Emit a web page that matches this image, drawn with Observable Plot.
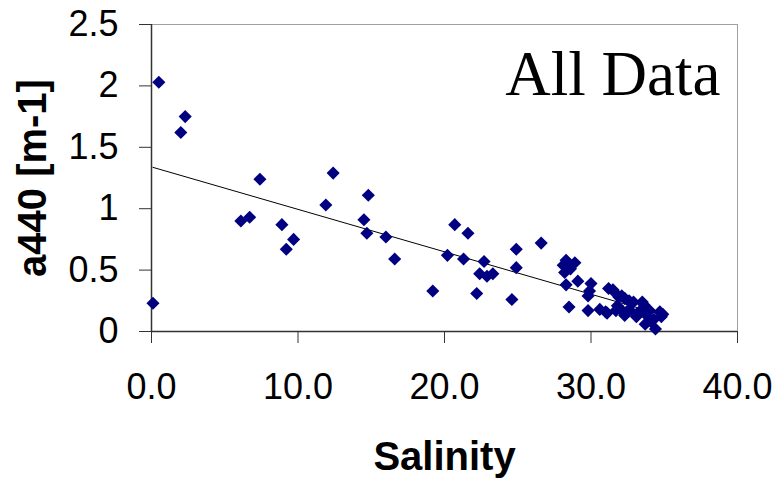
<!DOCTYPE html>
<html>
<head>
<meta charset="utf-8">
<script src="https://cdn.jsdelivr.net/npm/d3@7"></script>
<script src="https://cdn.jsdelivr.net/npm/@observablehq/plot@0.6"></script>
<style>
  html, body { margin: 0; padding: 0; background: #fff; }
</style>
</head>
<body>
<div id="chart"></div>
<script>
const salinity = [
  0.1, 0.5, 2.0, 2.3, 6.1, 6.7, 7.4, 8.9, 9.2, 9.7,
  11.9, 12.4, 14.5, 14.7, 14.8, 16.0, 16.6, 19.2, 20.2, 20.7,
  21.3, 21.6, 22.2, 22.4, 22.7, 22.9, 23.3, 24.6, 24.9, 24.9,
  26.6, 28.1, 28.3, 28.6, 28.9, 28.2, 28.3, 29.1, 28.5, 30.0,
  29.9, 29.8, 29.8, 30.6, 31.1, 31.2, 31.5, 31.7, 31.9, 32.1,
  32.3, 32.6, 32.9, 33.5, 33.6, 31.8, 31.0, 31.7, 32.2, 32.3,
  32.6, 33.1, 33.3, 33.1, 33.8, 34.0, 34.3, 34.7, 34.8, 34.9,
  33.7, 34.1, 34.4
];
const a440 = [
  0.23, 2.03, 1.62, 1.75, 0.90, 0.93, 1.24, 0.87, 0.67, 0.75,
  1.03, 1.29, 0.91, 0.80, 1.11, 0.77, 0.59, 0.33, 0.62, 0.87,
  0.59, 0.80, 0.31, 0.47, 0.57, 0.45, 0.47, 0.26, 0.67, 0.52,
  0.72, 0.54, 0.58, 0.51, 0.56, 0.48, 0.38, 0.41, 0.20, 0.39,
  0.33, 0.29, 0.17, 0.18, 0.15, 0.35, 0.34, 0.31, 0.28, 0.29,
  0.27, 0.25, 0.24, 0.24, 0.22, 0.21, 0.16, 0.17, 0.16, 0.13,
  0.18, 0.14, 0.16, 0.12, 0.13, 0.17, 0.10, 0.16, 0.12, 0.14,
  0.06, 0.08, 0.02
];
const xTicks = [0, 10, 20, 30, 40];
const yTicks = [0, 0.5, 1, 1.5, 2, 2.5];
const xTitle = "Salinity";
const yTitle = "a440 [m-1]";
const panelLabel = "All Data";

const data = salinity.map((s, i) => ({salinity: s, a440: a440[i]}));

const chart = Plot.plot({
  width: 777,
  height: 480,
  marginLeft: 151,
  marginRight: 40,
  marginTop: 24,
  marginBottom: 149,
  style: {
    fontFamily: "'Liberation Sans', Arial, sans-serif",
    fontSize: "36px",
    color: "black",
    background: "white"
  },
  x: {domain: [0, 40]},
  y: {domain: [0, 2.5]},
  marks: [
    Plot.frame({stroke: "#a0a0a0"}),
    Plot.ruleX([0], {stroke: "#333", strokeWidth: 1.5}),
    Plot.ruleY([0], {stroke: "#333", strokeWidth: 1.5}),
    Plot.axisX({ticks: xTicks, tickFormat: d3.format(".1f"), tickSize: 12, tickPadding: 30, label: null, stroke: "#333"}),
    Plot.axisY({ticks: yTicks, tickFormat: d => String(d), tickSize: 12, tickPadding: 21, label: null, stroke: "#333"}),
    Plot.linearRegressionY(data, {x: "salinity", y: "a440", stroke: "black", strokeWidth: 1, ci: 0}),
    Plot.dot(data, {x: "salinity", y: "a440", symbol: "diamond2", r: 5.9, fill: "#000080", stroke: "none"}),
    Plot.text([xTitle], {frameAnchor: "bottom", textAnchor: "middle", lineAnchor: "bottom", dy: 138, fontSize: 40, fontWeight: "bold"}),
    Plot.text([yTitle], {frameAnchor: "left", textAnchor: "middle", lineAnchor: "middle", rotate: -90, dx: -118, fontSize: 40, fontWeight: "bold"}),
    Plot.text([panelLabel], {frameAnchor: "top-right", textAnchor: "end", lineAnchor: "bottom", dx: -17, dy: 70, fontSize: 63, fontFamily: "'Liberation Serif', 'Times New Roman', serif"})
  ]
});
document.getElementById("chart").appendChild(chart);
</script>
</body>
</html>
